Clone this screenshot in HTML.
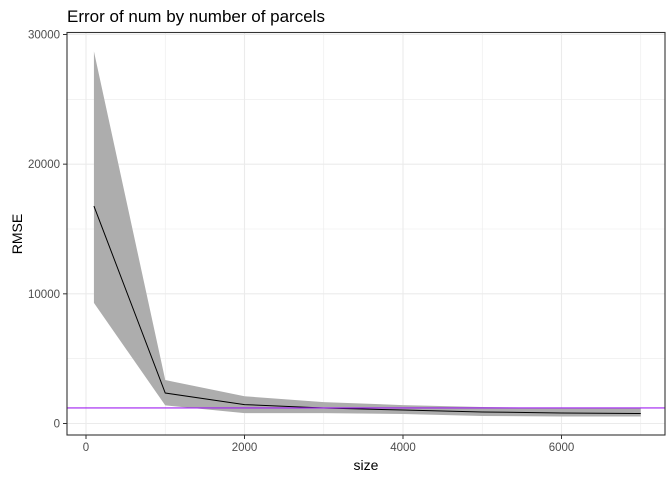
<!DOCTYPE html>
<html><head><meta charset="utf-8"><style>
body{margin:0;background:#fff;}
svg text{font-family:"Liberation Sans",Arial,sans-serif;}
</style></head><body>
<svg id="chart" width="672" height="480" xmlns="http://www.w3.org/2000/svg">
<rect width="672" height="480" fill="#fff"/>
<text x="67" y="22" font-size="17" fill="#000">Error of num by number of parcels</text>
<g id="grid"></g>
<g id="marks"></g>
<rect x="67" y="32.5" width="598" height="402.5" fill="none" stroke="#333" stroke-width="1.1"/>
<g id="axes"></g>
<text x="366" y="470" font-size="14" text-anchor="middle">size</text>
<text transform="translate(22,234) rotate(-90)" font-size="14" text-anchor="middle">RMSE</text>
</svg>
<script>
const sizes=[100,1000,2000,3000,4000,5000,6000,7000];
const rmseMean=[16770,2350,1460,1200,1040,890,810,770];
const rmseUpper=[28700,3350,2100,1650,1420,1270,1200,1200];
const rmseLower=[9300,1400,800,800,730,580,540,540];
const refLine=1200;
const xTicks=[0,2000,4000,6000];
const yTicks=[0,10000,20000,30000];
const NS="http://www.w3.org/2000/svg";
const X=v=>86+v*0.07925;
const Y=v=>423.5-v*0.012967;
const L=67,R=665,T=32.5,B=435;
function mk(tag,attrs,parent){const e=document.createElementNS(NS,tag);for(const k in attrs)e.setAttribute(k,attrs[k]);parent.appendChild(e);return e;}
const grid=document.getElementById('grid'),marks=document.getElementById('marks'),axes=document.getElementById('axes');
mk('rect',{x:L,y:T,width:R-L,height:B-T,fill:'#fff'},grid);
for(let v=1000;v<=7000;v+=2000){const g=mk('line',{x1:X(v),x2:X(v),y1:T,y2:B,stroke:'#ebebeb','stroke-width':0.6},grid);}
for(let v=5000;v<=25000;v+=10000){mk('line',{x1:L,x2:R,y1:Y(v),y2:Y(v),stroke:'#ebebeb','stroke-width':0.6},grid);}
xTicks.forEach(v=>{const l=mk('line',{x1:X(v),x2:X(v),y1:T,y2:B,stroke:'#ebebeb','stroke-width':1.1},grid);


const t=mk('line',{x1:X(v),x2:X(v),y1:B,y2:B+4,stroke:'#333'},axes);
const tx=mk('text',{x:X(v),y:B+16,'font-size':11.5,fill:'#4d4d4d','text-anchor':'middle'},axes);tx.textContent=v;

});
yTicks.forEach(v=>{const l=mk('line',{x1:L,x2:R,y1:Y(v),y2:Y(v),stroke:'#ebebeb','stroke-width':1.1},grid);


mk('line',{x1:L-4,x2:L,y1:Y(v),y2:Y(v),stroke:'#333'},axes);
const tx=mk('text',{x:L-7,y:Y(v)+4,'font-size':11.5,fill:'#4d4d4d','text-anchor':'end'},axes);tx.textContent=v;

});
let pts=sizes.map((s,i)=>X(s)+','+Y(rmseUpper[i]));
for(let i=sizes.length-1;i>=0;i--)pts.push(X(sizes[i])+','+Y(rmseLower[i]));
const band=mk('polygon',{points:pts.join(' '),fill:'#adadad'},marks);


const line=mk('polyline',{points:sizes.map((s,i)=>X(s)+','+Y(rmseMean[i])).join(' '),fill:'none',stroke:'#000','stroke-width':1},marks);


const h=mk('line',{x1:L,x2:R,y1:Y(refLine),y2:Y(refLine),stroke:'#a020f0','stroke-width':1.1},marks);


</script>
</body></html>
